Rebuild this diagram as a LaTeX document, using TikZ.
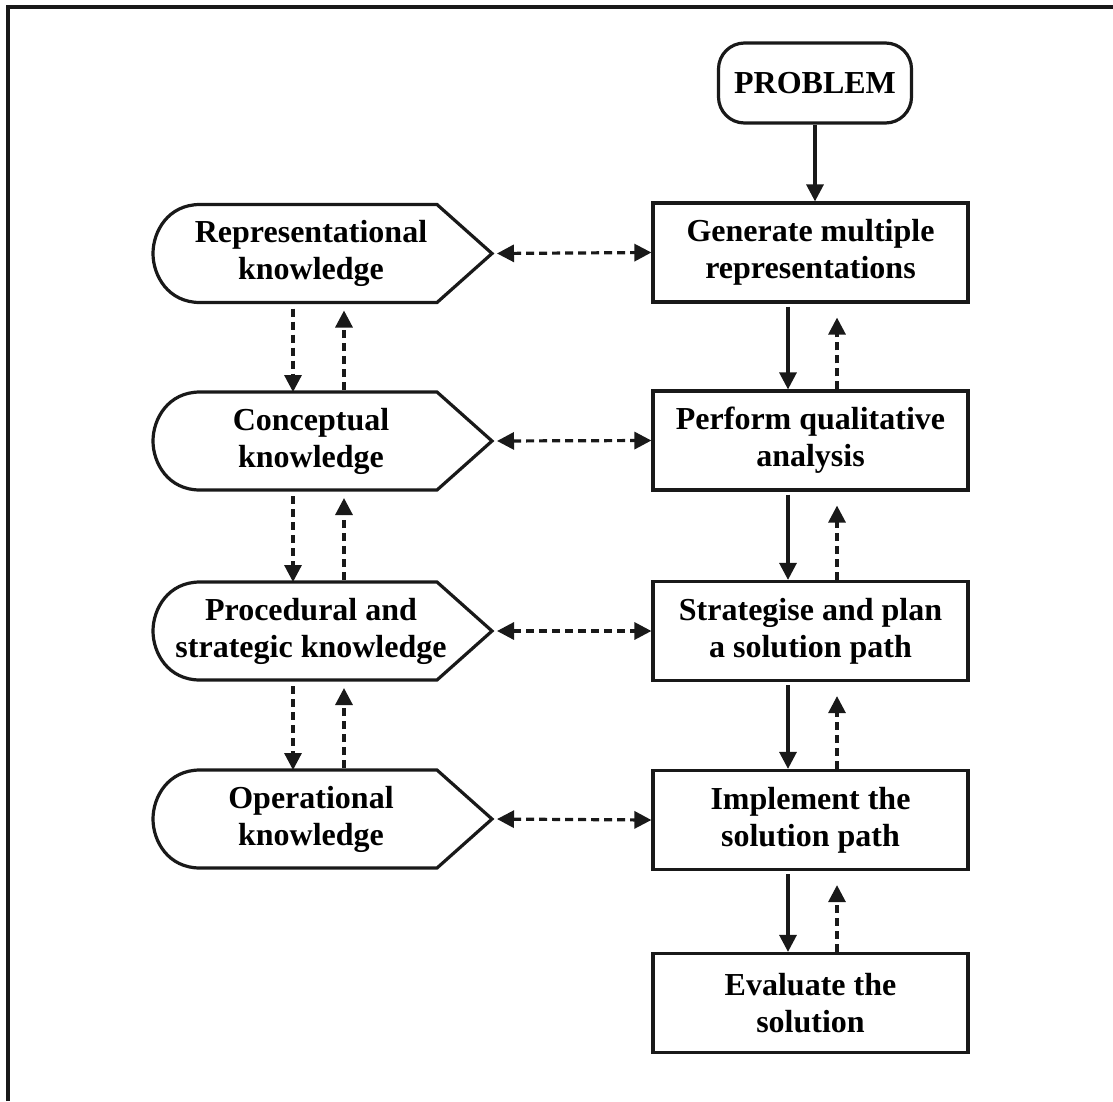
\documentclass[tikz,border=0pt]{standalone}
\usepackage{fontspec}
\setmainfont{Liberation Serif}
\usetikzlibrary{arrows.meta}
\begin{document}
\begin{tikzpicture}[x=1pt,y=-1pt,
  lbl/.style={font=\bfseries\fontsize{32}{37}\selectfont, align=center, inner sep=0pt, text=black},
  outl/.style={draw=black!90, line width=3.2pt},
  box/.style={outl, lbl, minimum width=315pt, minimum height=99pt},
  tipc/.tip={Triangle[width=17pt,length=17pt]},
  solidarrow/.style={draw=black!90, line width=3.2pt, -tipc},
  dasharrow/.style={draw=black!90, line width=3.2pt, dash pattern=on 8pt off 5pt, -tipc},
  dashboth/.style={draw=black!90, line width=3.2pt, dash pattern=on 8pt off 5pt, tipc-tipc}
]
\useasboundingbox (0,0) rectangle (1113,1101);
% outer frame (open on right and bottom)
\draw[draw=black!90, line width=3.5pt] (8,1101) -- (8,7) -- (1113,7);

% right column
\node[outl, lbl, rounded corners=26pt, minimum width=193pt, minimum height=80pt] (prob) at (815,83) {PROBLEM};
\node[box] (gen)   at (810.5,252.5) {Generate multiple\\representations};
\node[box] (perf)  at (810.5,440.5) {Perform qualitative\\analysis};
\node[box] (strat) at (810.5,631)   {Strategise and plan\\a solution path};
\node[box] (impl)  at (810.5,820)   {Implement the\\solution path};
\node[box] (eval)  at (810.5,1003)  {Evaluate the\\solution};

\coordinate (xd) at (788,0);
\coordinate (xu) at (837,0);

% left column
\foreach \n/\cy/\t in {rep/253.5/{Representational\\knowledge},
                       con/441/{Conceptual\\knowledge},
                       pro/631/{Procedural and\\strategic knowledge},
                       ope/819/{Operational\\knowledge}} {
  \draw[outl] (200,\cy-49) -- (437,\cy-49) -- (492,\cy) -- (437,\cy+49) -- (200,\cy+49)
     .. controls (168,\cy+49) and (153,\cy+22) .. (153,\cy)
     .. controls (153,\cy-22) and (168,\cy-49) .. cycle;
  \node[lbl] (\n) at (311,\cy) {\t};
  \coordinate (\n-tip) at (492,\cy);
  \coordinate (\n-bl) at (293,\cy+49);
  \coordinate (\n-br) at (344,\cy+49);
  \coordinate (\n-tl) at (293,\cy-49);
  \coordinate (\n-tr) at (344,\cy-49);
}

% problem -> generate
\draw[solidarrow] (prob.south) -- (prob.south |- gen.north);

% horizontal dashed double arrows
\draw[dashboth, shorten <=5pt] (rep-tip) -- (gen.west);
\draw[dashboth, shorten <=5pt] (con-tip) -- (perf.west);
\draw[dashboth, shorten <=5pt] (pro-tip) -- (strat.west);
\draw[dashboth, shorten <=5pt] (ope-tip) -- (impl.west);

% left vertical arrows
\foreach \a/\b in {rep/con, con/pro, pro/ope} {
  \draw[dasharrow, shorten <=6pt] (\a-bl) -- (\b-tl);
  \draw[dasharrow, shorten <=2pt, shorten >=8pt] (\b-tr) -- (\a-br);
}

% right vertical arrows
\foreach \a/\b in {gen/perf, perf/strat, strat/impl, impl/eval} {
  \draw[solidarrow, shorten <=3pt] (\a.south -| xd) -- (\b.north -| xd);
  \draw[dasharrow, shorten >=14pt] (\b.north -| xu) -- (\a.south -| xu);
}
\end{tikzpicture}
\end{document}
